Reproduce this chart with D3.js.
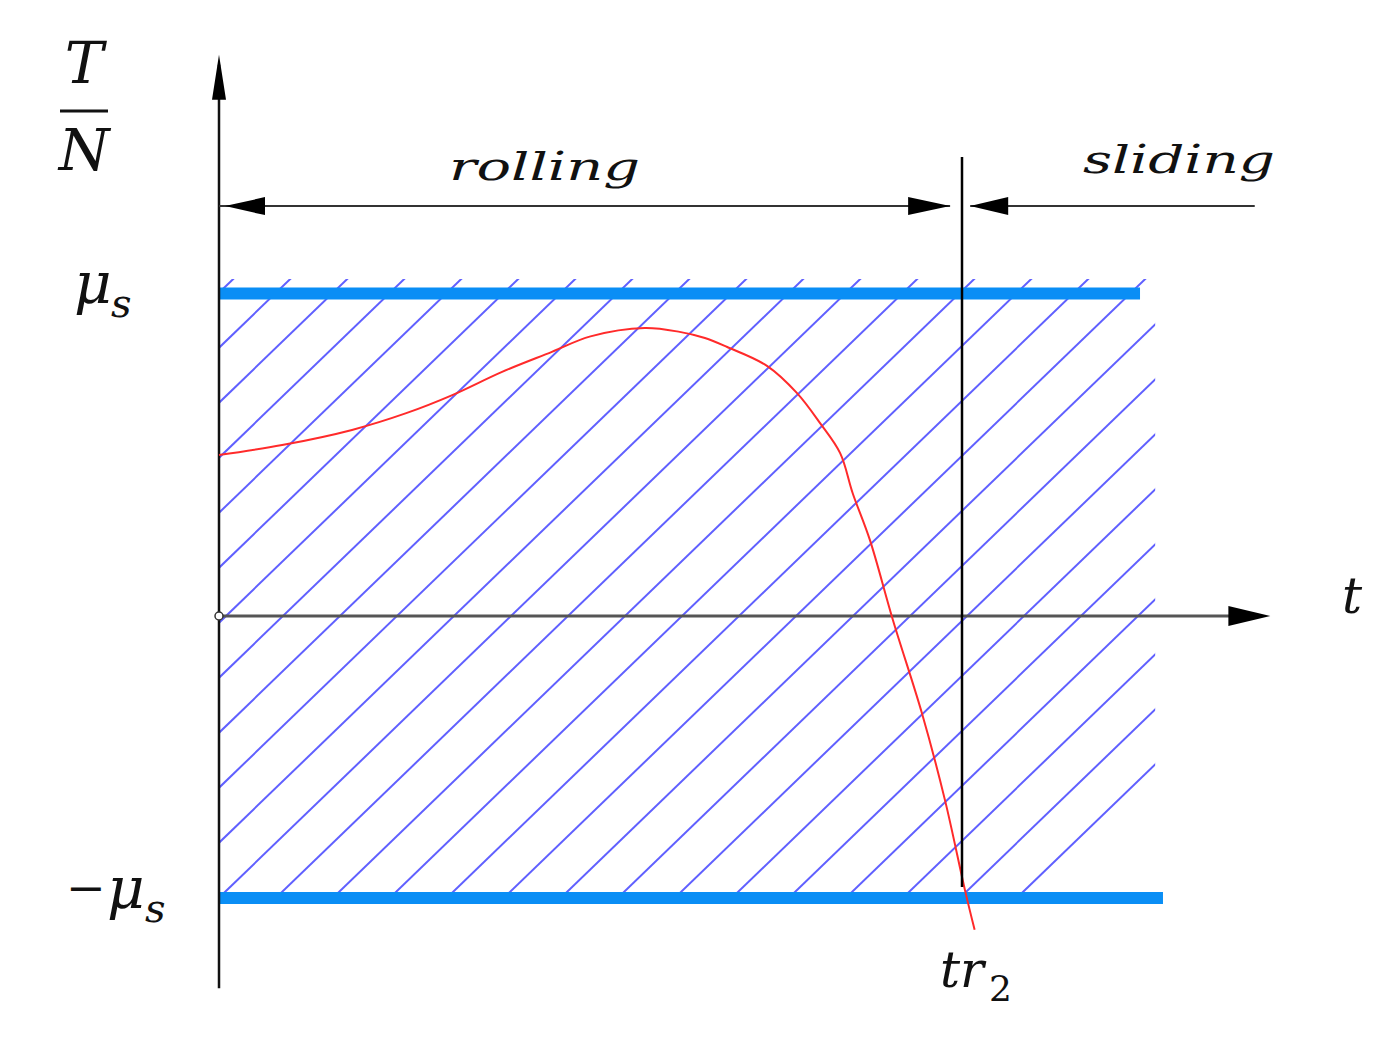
<!DOCTYPE html>
<html lang="en">
<head>
<meta charset="UTF-8">
<title>rolling / sliding</title>
<script src="https://cdn.jsdelivr.net/npm/d3@7/dist/d3.min.js"></script>
<style>
  body { margin: 0; background: #fff; }
  text { font-family: "DejaVu Serif", serif; font-style: italic; fill: #111; }
</style>
</head>
<body>
<svg></svg>
<script>
// red curve T/N over time (t = 1 at tr2, T/N in units of mu_s)
var tValues = [0, 0.085, 0.179, 0.252, 0.314, 0.381, 0.448, 0.500, 0.573, 0.620,
               0.654, 0.684, 0.738, 0.778, 0.809, 0.836, 0.853, 0.876, 0.907, 0.946,
               0.977, 1.004, 1.017];
var ratioValues = [0.499, 0.530, 0.577, 0.629, 0.685, 0.757, 0.819, 0.867, 0.893, 0.881,
                   0.862, 0.834, 0.775, 0.691, 0.598, 0.505, 0.380, 0.236, -0.014, -0.344,
                   -0.652, -0.972, -1.113];

var muLevels = [1, -1];            // +mu_s, -mu_s
var bandEnds = [1.2396, 1.2705];   // where each blue band stops
var tr2 = 1;
var hatchT = [0, 1.26];
var hatchV = [-1, 1.045];
var axisT = 1.415, axisTop = 1.74, axisBottom = -1.32;
var arrowV = 1.271;               // level of the rolling/sliding arrows
var rollingT = [0, 0.984];
var slidingT = [1.011, 1.394];
var dividerV = [1.423, -0.961];

var W = 1397, H = 1039;
var svg = d3.select("svg").attr("width", W).attr("height", H);
svg.append("rect").attr("width", W).attr("height", H).attr("fill", "#fff");

var x = d3.scaleLinear().domain([0, 1]).range([219, 962]);
var y = d3.scaleLinear().domain([-1, 0, 1]).range([898, 616, 293.5]);

// hatching, clipped to the region
svg.append("clipPath").attr("id", "hclip")
  .append("rect")
  .attr("x", x(hatchT[0])).attr("y", y(hatchV[1]))
  .attr("width", x(hatchT[1]) - x(hatchT[0]))
  .attr("height", y(hatchV[0]) - y(hatchV[1]));

var step = 57, slope = 57 / 55, x0 = 226;
var hatchG = svg.append("g").attr("clip-path", "url(#hclip)");
d3.range(-14, 20).forEach(function(k){
  var xa = x0 + step * k;
  var yTop = y(1.2), yBot = y(-1.2);
  hatchG.append("line")
    .attr("x1", xa - (yBot - y(0)) * slope).attr("y1", yBot)
    .attr("x2", xa + (y(0) - yTop) * slope).attr("y2", yTop)
    .attr("stroke", "#6060ff").attr("stroke-width", 2);
});

// blue bands at +-mu_s
muLevels.forEach(function(m, i){
  svg.append("line")
    .attr("x1", x(0)).attr("x2", x(bandEnds[i]))
    .attr("y1", y(m)).attr("y2", y(m))
    .attr("stroke", "#0a8ef5").attr("stroke-width", 12);
});

function arrowHead(tipX, tipY, dx, dy, len, half){
  // dx,dy = unit direction of the arrow
  var bx = tipX - dx * len, by = tipY - dy * len;
  var px = -dy * half, py = dx * half;
  svg.append("path")
    .attr("d", "M" + tipX + "," + tipY + "L" + (bx + px) + "," + (by + py) + "L" + (bx - px) + "," + (by - py) + "Z")
    .attr("fill", "#000");
}

// x axis
svg.append("line")
  .attr("x1", x(0)).attr("x2", x(axisT) - 10)
  .attr("y1", y(0)).attr("y2", y(0))
  .attr("stroke", "#555").attr("stroke-width", 3);
arrowHead(x(axisT), y(0), 1, 0, 42, 10);

// y axis
svg.append("line")
  .attr("x1", x(0)).attr("x2", x(0))
  .attr("y1", y(axisBottom)).attr("y2", y(axisTop) + 10)
  .attr("stroke", "#111").attr("stroke-width", 2.5);
arrowHead(x(0), y(axisTop), 0, -1, 45, 7);

svg.append("circle")
  .attr("cx", x(0)).attr("cy", y(0)).attr("r", 4)
  .attr("fill", "#fff").attr("stroke", "#333").attr("stroke-width", 1.5);

// red curve
var line = d3.line()
  .x(function(d, i){ return x(tValues[i]); })
  .y(function(d, i){ return y(ratioValues[i]); })
  .curve(d3.curveCatmullRom.alpha(0.5));
svg.append("path")
  .attr("d", line(tValues))
  .attr("fill", "none").attr("stroke", "#ff2a2a").attr("stroke-width", 2);

// divider at tr2
svg.append("line")
  .attr("x1", x(tr2)).attr("x2", x(tr2))
  .attr("y1", y(dividerV[0])).attr("y2", y(dividerV[1]))
  .attr("stroke", "#000").attr("stroke-width", 2.5);

// rolling / sliding arrows
svg.append("line")
  .attr("x1", x(rollingT[0])).attr("x2", x(rollingT[1]))
  .attr("y1", y(arrowV)).attr("y2", y(arrowV))
  .attr("stroke", "#333").attr("stroke-width", 2);
arrowHead(x(rollingT[0]) + 6, y(arrowV), -1, 0, 40, 9);
arrowHead(x(rollingT[1]), y(arrowV), 1, 0, 42, 9);
svg.append("line")
  .attr("x1", x(slidingT[0])).attr("x2", x(slidingT[1]))
  .attr("y1", y(arrowV)).attr("y2", y(arrowV))
  .attr("stroke", "#333").attr("stroke-width", 2);
arrowHead(x(slidingT[0]), y(arrowV), -1, 0, 38, 9);

// labels
svg.append("text").attr("x", 449).attr("y", 180).attr("font-size", 40)
  .attr("textLength", 191).attr("lengthAdjust", "spacingAndGlyphs").text("rolling");
svg.append("text").attr("x", 1083).attr("y", 173).attr("font-size", 40)
  .attr("textLength", 192).attr("lengthAdjust", "spacingAndGlyphs").text("sliding");

// T / N
svg.append("text").attr("x", 84).attr("y", 83).attr("font-size", 58)
  .attr("text-anchor", "middle").text("T");
svg.append("line").attr("x1", 60).attr("x2", 108).attr("y1", 111).attr("y2", 111)
  .attr("stroke", "#111").attr("stroke-width", 3);
svg.append("text").attr("x", 84).attr("y", 170).attr("font-size", 58)
  .attr("text-anchor", "middle").text("N");

// mu_s labels
function muLabel(xm, base, sx, sb){
  var t = svg.append("text");
  t.append("tspan").attr("x", xm).attr("y", base).attr("font-size", 58).text("\u03bc");
  t.append("tspan").attr("x", sx).attr("y", sb).attr("font-size", 40).text("s");
}
muLabel(74, 303, 111, 317);
svg.append("text").attr("x", 66).attr("y", 903).attr("font-size", 44)
  .attr("font-style", "normal").attr("textLength", 40).attr("lengthAdjust", "spacingAndGlyphs").text("\u2212");
muLabel(107, 908, 145, 922);

// t and tr2
svg.append("text").attr("x", 1342).attr("y", 613).attr("font-size", 50).text("t");
var tr = svg.append("text");
tr.append("tspan").attr("x", 940).attr("y", 987).attr("font-size", 50).text("tr");
tr.append("tspan").attr("x", 989).attr("y", 1001).attr("font-size", 36).attr("font-style", "normal").text("2");
</script>
</body>
</html>
